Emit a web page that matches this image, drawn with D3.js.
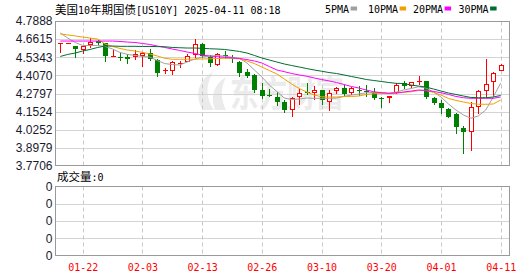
<!DOCTYPE html>
<html>
<head>
<meta charset="utf-8">
<script src="https://cdn.jsdelivr.net/npm/d3@7"></script>
<style>
body { margin: 0; background: #fff; }
svg { display: block; }
</style>
</head>
<body>
<script>
// DATA
var dates = ["01-16","01-17","01-21","01-22","01-23","01-24","01-27","01-28","01-29","01-30",
             "01-31","02-03","02-04","02-05","02-06","02-07","02-10","02-11","02-12","02-13",
             "02-14","02-18","02-19","02-20","02-21","02-24","02-25","02-26","02-27","02-28",
             "03-03","03-04","03-05","03-06","03-07","03-10","03-11","03-12","03-13","03-14",
             "03-17","03-18","03-19","03-20","03-21","03-24","03-25","03-26","03-27","03-28",
             "03-31","04-01","04-02","04-03","04-04","04-07","04-08","04-09","04-10","04-11"];

var open  = [4.630,4.630,4.613,4.588,4.620,4.648,4.632,4.538,4.537,4.538,
             4.538,4.543,4.562,4.515,4.437,4.440,4.490,4.503,4.548,4.630,
             4.538,4.478,4.553,4.535,4.503,4.428,4.408,4.304,4.270,4.257,
             4.222,4.164,4.253,4.292,4.281,4.304,4.222,4.297,4.316,4.283,
             4.305,4.299,4.290,4.249,4.246,4.283,4.351,4.335,4.362,4.367,
             4.246,4.215,4.169,4.136,4.040,4.012,4.187,4.299,4.358,4.438];
var high  = [4.633,4.634,4.615,4.612,4.667,4.655,4.635,4.592,4.565,4.555,
             4.585,4.568,4.590,4.520,4.462,4.505,4.508,4.560,4.662,4.635,
             4.550,4.562,4.575,4.550,4.508,4.450,4.415,4.350,4.310,4.292,
             4.234,4.255,4.309,4.351,4.332,4.306,4.304,4.328,4.339,4.328,
             4.332,4.339,4.320,4.257,4.264,4.351,4.367,4.363,4.403,4.369,
             4.257,4.234,4.178,4.143,4.052,4.222,4.304,4.520,4.431,4.487];
var low   = [4.565,4.628,4.538,4.555,4.597,4.625,4.508,4.536,4.515,4.492,
             4.512,4.468,4.515,4.405,4.414,4.410,4.461,4.500,4.530,4.535,
             4.475,4.473,4.528,4.500,4.400,4.396,4.292,4.250,4.264,4.199,
             4.152,4.112,4.199,4.276,4.234,4.205,4.159,4.274,4.262,4.266,
             4.266,4.260,4.240,4.185,4.211,4.279,4.316,4.316,4.339,4.250,
             4.206,4.141,4.115,4.005,3.864,3.878,4.136,4.246,4.262,4.435];
var close = [4.632,4.631,4.590,4.610,4.643,4.632,4.545,4.541,4.532,4.522,
             4.555,4.564,4.520,4.426,4.443,4.500,4.496,4.543,4.627,4.540,
             4.495,4.555,4.540,4.530,4.422,4.403,4.302,4.264,4.266,4.218,
             4.164,4.250,4.285,4.288,4.304,4.235,4.285,4.316,4.276,4.316,
             4.302,4.295,4.250,4.246,4.262,4.339,4.332,4.358,4.364,4.257,
             4.215,4.180,4.117,4.047,4.012,4.183,4.299,4.346,4.426,4.480];

// moving averages
var ma5  = [4.705,4.669,4.638,4.617,4.617,4.617,4.610,4.592,4.568,4.554,
            4.547,4.540,4.536,4.511,4.490,4.483,4.480,4.501,4.522,4.536,
            4.543,4.545,4.543,4.534,4.526,4.494,4.445,4.396,4.339,4.294,
            4.248,4.238,4.241,4.248,4.246,4.246,4.246,4.248,4.259,4.269,
            4.276,4.285,4.287,4.287,4.281,4.290,4.304,4.315,4.327,4.318,
            4.290,4.255,4.206,4.164,4.129,4.106,4.122,4.164,4.255,4.353];
var ma10 = [4.698,4.691,4.684,4.676,4.669,4.662,4.627,4.610,4.596,4.585,
            4.578,4.569,4.557,4.543,4.527,4.520,4.520,4.520,4.520,4.522,
            4.523,4.526,4.527,4.527,4.523,4.508,4.490,4.466,4.441,4.417,
            4.382,4.346,4.315,4.290,4.269,4.257,4.255,4.255,4.259,4.259,
            4.262,4.273,4.278,4.280,4.281,4.283,4.288,4.292,4.301,4.301,
            4.287,4.269,4.245,4.231,4.220,4.210,4.204,4.204,4.206,4.234];
var ma20 = [4.648,4.648,4.648,4.648,4.648,4.648,4.648,4.648,4.645,4.641,
            4.638,4.631,4.624,4.613,4.603,4.592,4.582,4.571,4.561,4.550,
            4.543,4.538,4.534,4.529,4.526,4.518,4.508,4.494,4.469,4.445,
            4.433,4.420,4.410,4.401,4.389,4.378,4.368,4.357,4.343,4.329,
            4.318,4.304,4.292,4.285,4.281,4.283,4.290,4.297,4.304,4.301,
            4.294,4.285,4.273,4.259,4.250,4.246,4.246,4.246,4.246,4.255];
var ma30 = [4.540,4.554,4.564,4.578,4.589,4.603,4.613,4.613,4.611,4.611,
            4.611,4.610,4.610,4.609,4.608,4.603,4.601,4.599,4.599,4.597,
            4.594,4.592,4.589,4.582,4.575,4.564,4.547,4.529,4.515,4.501,
            4.487,4.476,4.466,4.455,4.445,4.436,4.427,4.420,4.410,4.399,
            4.389,4.378,4.371,4.364,4.357,4.351,4.350,4.339,4.332,4.325,
            4.311,4.297,4.283,4.273,4.262,4.252,4.250,4.250,4.255,4.266];

var yTicks = [4.7888, 4.6615, 4.5343, 4.4070, 4.2797, 4.1524, 4.0252, 3.8979, 3.7706];
var xTicks = ["01-22","02-03","02-13","02-26","03-10","03-20","04-01","04-11"];
var volTicks = ["0","0","0","0","0"];
var volume = 0;
var maNames = ["5PMA","10PMA","20PMA","30PMA"];

var title = "美国10年期国债[US10Y] 2025-04-11 08:18";

// COLOURS
var maColors = ["#a0a0a0", "#f0a000", "#ff00ff", "#006e32"];
var upColor = "#ff0000", downColor = "#008000";
var gridColor = "#d4d4d4", frameColor = "#999";

// SIZES
var left = 55.5, right = 509.5;
var main = {top: 21.5, bottom: 165.5};
var vol = {top: 186.5, bottom: 255.5};

var svg = d3.select("body").append("svg")
    .attr("width", 530)
    .attr("height", 276);

// SCALES
var x = d3.scalePoint().domain(dates).range([60.3, 500.7]);
var y = d3.scaleLinear().domain([3.7706, 4.7888]).range([166, 21]);
var vy = d3.scaleLinear().domain([0, volTicks.length - 1]).range([vol.bottom, vol.top]);

function px(v) { return Math.round(v) + 0.5; }

// mixed CJK / ascii text, ascii drawn half width like the original
function mixedText(g, str, tx, ty) {
    var t = g.append("text").attr("x", tx).attr("y", ty).attr("fill", "#000");
    str.match(/[\u3000-\u9fff]+|[^\u3000-\u9fff]+/g).forEach(function(run) {
        var cjk = /[\u3000-\u9fff]/.test(run);
        t.append("tspan").text(run)
            .style("font-family", cjk ? "'Noto Sans CJK SC'" : "'DejaVu Sans Mono'")
            .style("font-size", cjk ? "11.5px" : "10px");
    });
    return t;
}

// TITLE + LEGEND
mixedText(svg, title, 55, 13.5);

var legendX = [325, 368, 413, 458.5];
maNames.forEach(function(name, i) {
    svg.append("text")
        .attr("x", legendX[i]).attr("y", 12.5)
        .style("font-family", "'DejaVu Sans Mono'")
        .style("font-size", "10px")
        .text(name);
    svg.append("rect")
        .attr("x", legendX[i] + name.length * 6.02 + 1.5)
        .attr("y", 6.5)
        .attr("width", 6.5).attr("height", 4)
        .attr("fill", maColors[i]);
});

// WATERMARK
var wm = svg.append("g").attr("fill", "#ebebeb");
wm.append("path")
    .attr("d", "M203,110 C194,96 198,80 213,72 C205,86 206,98 214,110 Z M215,110 C210,97 214,84 226,77 C220,89 221,100 226,110 Z");
wm.append("text")
    .attr("x", 230).attr("y", 107)
    .attr("textLength", 114)
    .attr("lengthAdjust", "spacingAndGlyphs")
    .style("font-family", "'Noto Sans CJK SC'")
    .style("font-weight", "bold")
    .style("font-size", "36px")
    .text("东方财富");

// GRIDLINES
var grid = svg.append("g");
grid.selectAll(".hg").data(yTicks.slice(1, -1))
    .enter().append("line")
    .attr("x1", left).attr("x2", right)
    .attr("y1", function(d) { return px(y(d)); })
    .attr("y2", function(d) { return px(y(d)); })
    .attr("stroke", gridColor);

grid.selectAll(".vhg").data(volTicks.slice(1, -1))
    .enter().append("line")
    .attr("x1", left).attr("x2", right)
    .attr("y1", function(d, i) { return px(vy(i + 1)); })
    .attr("y2", function(d, i) { return px(vy(i + 1)); })
    .attr("stroke", gridColor);

[main, vol].forEach(function(p) {
    grid.selectAll(null).data(xTicks)
        .enter().append("line")
        .attr("x1", function(d) { return px(x(d)); })
        .attr("x2", function(d) { return px(x(d)); })
        .attr("y1", p.top).attr("y2", p.bottom)
        .attr("stroke", "#c8c8c8")
        .attr("stroke-dasharray", "4,3");
});

// FRAMES
[main, vol].forEach(function(p) {
    svg.append("rect")
        .attr("x", left).attr("y", p.top)
        .attr("width", right - left).attr("height", p.bottom - p.top)
        .attr("fill", "none")
        .attr("stroke", frameColor);
});

// CANDLES
var candles = svg.append("g").selectAll("g")
    .data(dates)
    .enter().append("g")
    .each(function(d, i) {
        var g = d3.select(this);
        var cx = Math.round(x(d));
        var up = close[i] >= open[i];
        var col = up ? upColor : downColor;
        var top = Math.round(y(Math.max(open[i], close[i])));
        var bot = Math.round(y(Math.min(open[i], close[i])));
        var hi = Math.round(y(high[i])), lo = Math.round(y(low[i]));

        if (up) {
            if (hi < top) g.append("line").attr("x1", cx + 0.5).attr("x2", cx + 0.5)
                .attr("y1", hi).attr("y2", top).attr("stroke", col);
            if (lo > bot) g.append("line").attr("x1", cx + 0.5).attr("x2", cx + 0.5)
                .attr("y1", bot).attr("y2", lo).attr("stroke", col);
        } else {
            g.append("line").attr("x1", cx + 0.5).attr("x2", cx + 0.5)
                .attr("y1", hi).attr("y2", lo + 1).attr("stroke", col);
        }

        if (bot - top < 2) {
            g.append("line")
                .attr("x1", cx - 2).attr("x2", cx + 3)
                .attr("y1", top + 0.5).attr("y2", top + 0.5)
                .attr("stroke", col);
        } else if (up) {
            g.append("rect")
                .attr("x", cx - 1.5).attr("y", top + 0.5)
                .attr("width", 4).attr("height", bot - top - 1)
                .attr("fill", "#fff").attr("stroke", col);
        } else {
            g.append("rect")
                .attr("x", cx - 2).attr("y", top)
                .attr("width", 5).attr("height", bot - top)
                .attr("fill", col);
        }
    });

// MOVING AVERAGES
var line = d3.line()
    .x(function(d, i) { return x(dates[i]); })
    .y(function(d) { return y(d); });

[ma5, ma10, ma20, ma30].forEach(function(series, k) {
    svg.append("path")
        .datum(series)
        .attr("d", line)
        .attr("fill", "none")
        .attr("stroke", maColors[k])
        .attr("stroke-width", 1);
});

// AXES
var yAxis = d3.axisLeft(y)
    .tickValues(yTicks)
    .tickFormat(d3.format(".4f"))
    .tickSize(0)
    .tickPadding(3);

var ya = svg.append("g")
    .attr("transform", "translate(" + left + ",0)")
    .call(yAxis);
ya.select(".domain").remove();
ya.selectAll("text")
    .attr("fill", "#1a1a2e")
    .style("font-family", "'Liberation Sans'")
    .style("font-size", "12px");

var vAxis = d3.axisLeft(vy)
    .tickValues(d3.range(volTicks.length))
    .tickFormat(function(d) { return volTicks[d]; })
    .tickSize(0)
    .tickPadding(3);

var va = svg.append("g")
    .attr("transform", "translate(" + left + ",0)")
    .call(vAxis);
va.select(".domain").remove();
va.selectAll("text")
    .attr("fill", "#1a1a2e")
    .style("font-family", "'Liberation Sans'")
    .style("font-size", "12px");

var xAxis = d3.axisBottom(x)
    .tickValues(xTicks)
    .tickSize(0)
    .tickPadding(8);

var xa = svg.append("g")
    .attr("transform", "translate(0," + vol.bottom + ")")
    .call(xAxis);
xa.select(".domain").remove();
xa.selectAll("text")
    .attr("fill", "#ff0000")
    .style("font-family", "'DejaVu Sans Mono'")
    .style("font-size", "10px");

// VOLUME LABEL
mixedText(svg, "成交量:" + volume, 57, 181);
</script>
</body>
</html>
